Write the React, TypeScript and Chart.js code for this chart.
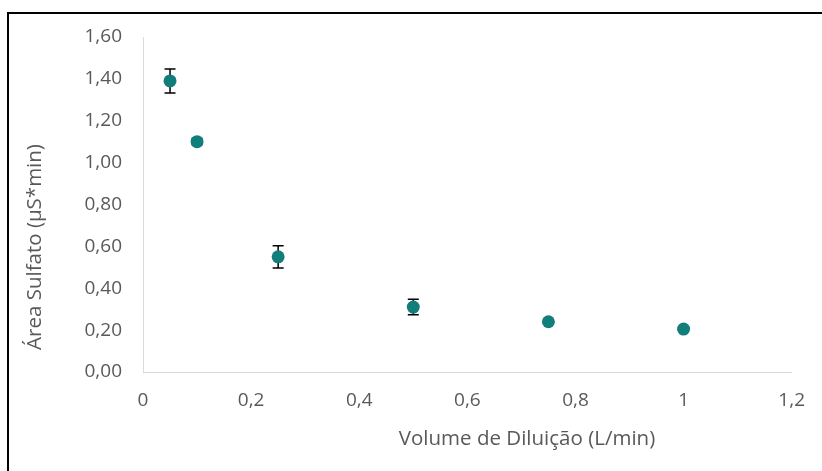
import React, { useEffect, useRef } from "react";
import { Chart, registerables } from "chart.js";

Chart.register(...registerables);

const volumes = [0.05, 0.1, 0.25, 0.5, 0.75, 1];
const areas = [1.39, 1.1, 0.55, 0.31, 0.24, 0.205];
const errors = [0.057, 0.015, 0.053, 0.037, 0.01, 0.01];
const xTitle = "Volume de Diluição (L/min)";
const yTitle = "Área Sulfato (µS*min)";

const TEAL = "#127e7b";
const TEXT = "#595959";
const FONT = "'Open Sans', 'Noto Sans', sans-serif";

const errorBarPlugin = {
  id: "errorBars",
  beforeDatasetsDraw(chart: any) {
    const { ctx, scales } = chart;
    const xs = scales.x;
    const ys = scales.y;
    ctx.save();
    ctx.strokeStyle = "#000";
    ctx.lineWidth = 1.5;
    volumes.forEach((v, i) => {
      const e = errors[i];
      if (!e) return;
      const px = xs.getPixelForValue(v);
      const top = ys.getPixelForValue(areas[i] + e);
      const bot = ys.getPixelForValue(areas[i] - e);
      const cw = 5.5;
      ctx.beginPath();
      ctx.moveTo(px, top);
      ctx.lineTo(px, bot);
      ctx.moveTo(px - cw, top);
      ctx.lineTo(px + cw, top);
      ctx.moveTo(px - cw, bot);
      ctx.lineTo(px + cw, bot);
      ctx.stroke();
    });
    ctx.restore();
  },
};

const titlePlugin = {
  id: "axisTitles",
  afterDraw(chart: any) {
    const { ctx, chartArea } = chart;
    ctx.save();
    ctx.fillStyle = TEXT;
    ctx.font = `20.5px ${FONT}`;
    ctx.textAlign = "center";
    ctx.textBaseline = "middle";
    ctx.fillText(xTitle, chartArea.left + 384, chartArea.bottom + 67);
    ctx.translate(35, chartArea.top + 210);
    ctx.rotate(-Math.PI / 2);
    ctx.fillText(yTitle, 0, 0);
    ctx.restore();
  },
};

export default function App() {
  const ref = useRef<HTMLCanvasElement>(null);
  useEffect(() => {
    if (!ref.current) return;
    const chart = new Chart(ref.current, {
      type: "scatter",
      data: {
        datasets: [
          {
            data: volumes.map((v, i) => ({ x: v, y: areas[i] })),
            backgroundColor: TEAL,
            borderColor: TEAL,
            pointRadius: 6.5,
            pointHoverRadius: 6.5,
            borderWidth: 0,
          },
        ],
      },
      options: {
        animation: false,
        responsive: false,
        events: [],
        layout: { padding: { top: 37, right: 27, left: 0, bottom: 0 } },
        plugins: { legend: { display: false }, tooltip: { enabled: false } },
        scales: {
          x: {
            type: "linear",
            min: 0,
            max: 1.2,
            afterFit: (s: any) => {
              s.height = 99;
            },
            grid: { display: true, color: "transparent", drawTicks: false },
            border: { display: true, color: "#d9d9d9", width: 1 },
            ticks: {
              stepSize: 0.2,
              padding: 17,
              color: TEXT,
              font: { size: 19, family: FONT },
              callback: (v: any) => String(Math.round(Number(v) * 10) / 10).replace(".", ","),
            },
          },
          y: {
            min: 0,
            max: 1.6,
            afterFit: (s: any) => {
              s.width = 143;
            },
            grid: { display: true, color: "transparent", drawTicks: false },
            border: { display: true, color: "#d9d9d9", width: 1 },
            ticks: {
              stepSize: 0.2,
              padding: 21,
              color: TEXT,
              font: { size: 19, family: FONT },
              callback: (v: any) => Number(v).toFixed(2).replace(".", ","),
            },
          },
        },
      },
      plugins: [errorBarPlugin, titlePlugin],
    });
    return () => chart.destroy();
  }, []);

  return (
    <div style={{ position: "absolute", left: 0, top: 0, width: 822, height: 471, overflow: "hidden", background: "#fff" }}>
      <div
        style={{
          position: "absolute",
          left: 7,
          top: 12,
          width: 1000,
          height: 1000,
          borderLeft: "2px solid #000",
          borderTop: "2px solid #000",
        }}
      />
      <canvas ref={ref} width={822} height={471} style={{ position: "absolute", left: 0, top: 0 }} />
    </div>
  );
}
